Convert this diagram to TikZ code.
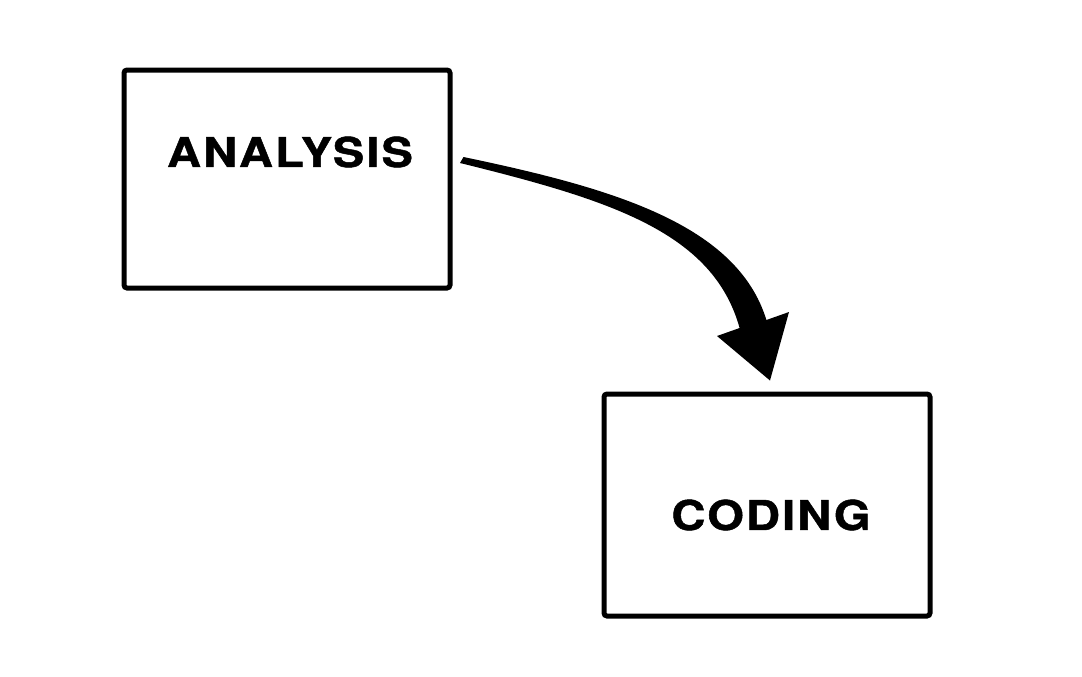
\documentclass[tikz,border=0pt]{standalone}
\usepackage{fontspec}
\setmainfont{TeX Gyre Heros}
\newfontfamily\boxfont[LetterSpace=5, FakeStretch=1.15, FakeBold=1.2]{TeX Gyre Heros Bold}
\usetikzlibrary{positioning,calc}

\tikzset{
  stagebox/.style={draw, line width=2.5pt, rounded corners=1.5pt, inner sep=0pt},
  stagetext/.style={font=\boxfont\fontsize{20.5}{24}\selectfont, inner sep=0pt}
}

\begin{document}
\begin{tikzpicture}[x=0.5pt, y=-0.5pt]
    \useasboundingbox (0,0) rectangle (1082,676);

    %% Boxes
    \node[stagebox, minimum width=163pt, minimum height=109pt] (analysis) at (287,179) {};
    \node[stagebox, minimum width=163pt, minimum height=111pt] (coding) at (767,505) {};

    % Labels
    \node[stagetext] (analysistext) at ($(analysis.center)+(3,-27)$) {ANALYSIS};
    \node[stagetext] (codingtext) at ($(coding.center)+(4,10)$) {CODING};

    %% Curved arrow, thin at the tail, thick at the head
    \coordinate (tail) at ($(analysis.east)+(11,-19)$);
    \coordinate (tip) at ($(coding.north)+(3,-11)$);
    \fill (tail) ++(0,-3) .. controls (612,188) and (737,224) .. (766.4,320)
        -- (789,312) -- (tip) -- (717,336) -- (739.6,328)
        .. controls (713,232) and (610,200) .. (460,163) -- cycle;

\end{tikzpicture}
\end{document}
